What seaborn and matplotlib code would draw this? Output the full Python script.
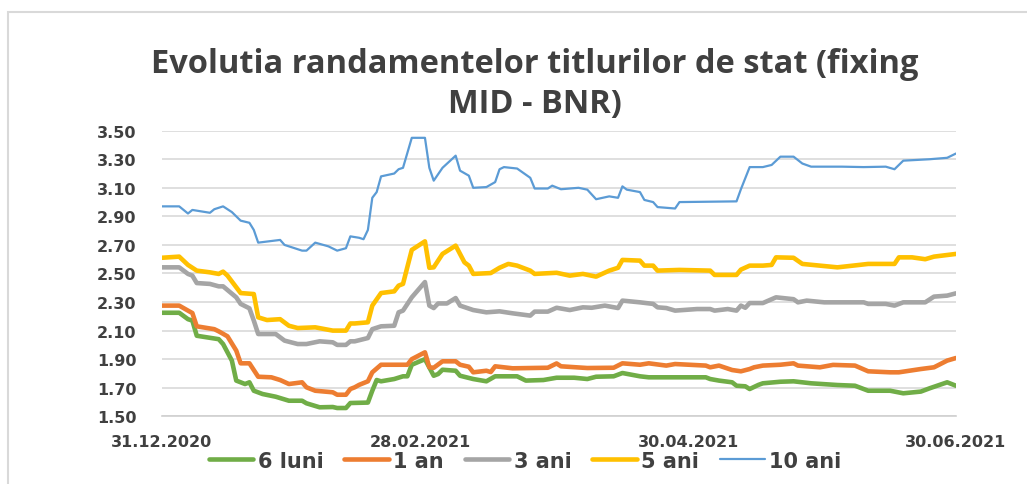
import pandas as pd
import numpy as np
import matplotlib
matplotlib.use("Agg")
import matplotlib.pyplot as plt
import matplotlib.dates as mdates
from matplotlib.patches import Rectangle
import seaborn as sns

# randamente titluri de stat, fixing MID - BNR (zile de la 31.12.2020)
start = pd.Timestamp("2020-12-31")

zile_6l = [0, 4, 6, 7, 8, 13, 14, 16, 17, 19, 20, 21, 23, 26, 29, 32, 33, 36, 39, 40, 42, 43, 47, 48,
           49, 50, 53, 55, 56, 57, 60, 62, 63, 64, 67, 68, 71, 74, 76, 81, 83, 87, 90, 94, 97, 99,
           103, 105, 109, 111, 124, 125, 127, 130, 131, 133, 134, 136, 137, 141, 144, 148, 154,
           158, 161, 166, 169, 173, 175, 179, 181]
val_6l = [2.225, 2.225, 2.18, 2.17, 2.064, 2.04, 2.006, 1.89, 1.75, 1.726, 1.738, 1.679, 1.656, 1.637,
          1.609, 1.609, 1.591, 1.563, 1.565, 1.558, 1.558, 1.593, 1.596, 1.679, 1.754, 1.745, 1.761,
          1.78, 1.78, 1.861, 1.90, 1.784, 1.796, 1.826, 1.819, 1.784, 1.761, 1.745, 1.78, 1.78, 1.75,
          1.754, 1.77, 1.77, 1.761, 1.777, 1.78, 1.803, 1.78, 1.773, 1.773, 1.761, 1.75, 1.738, 1.714,
          1.71, 1.691, 1.72, 1.731, 1.742, 1.745, 1.731, 1.719, 1.714, 1.679, 1.679, 1.661, 1.673,
          1.696, 1.738, 1.714]

zile_1a = [0, 4, 6, 7, 8, 12, 13, 15, 17, 18, 20, 22, 25, 27, 29, 32, 33, 35, 39, 40, 42, 43, 44, 45,
           47, 48, 50, 56, 57, 60, 61, 62, 64, 67, 68, 70, 71, 74, 75, 76, 80, 88, 90, 91, 97, 103,
           105, 109, 111, 115, 117, 124, 125, 127, 130, 132, 134, 135, 137, 141, 144, 145, 150, 153,
           158, 161, 166, 168, 173, 176, 179, 181]
val_1a = [2.275, 2.275, 2.24, 2.223, 2.13, 2.11, 2.095, 2.06, 1.96, 1.871, 1.871, 1.777, 1.773, 1.754,
          1.726, 1.738, 1.703, 1.679, 1.668, 1.651, 1.651, 1.691, 1.703, 1.72, 1.745, 1.808, 1.861,
          1.861, 1.90, 1.948, 1.843, 1.84, 1.885, 1.885, 1.861, 1.847, 1.808, 1.819, 1.81, 1.85, 1.836,
          1.84, 1.87, 1.85, 1.838, 1.84, 1.871, 1.861, 1.871, 1.855, 1.866, 1.855, 1.843, 1.855, 1.824,
          1.815, 1.831, 1.843, 1.855, 1.861, 1.871, 1.855, 1.843, 1.86, 1.855, 1.815, 1.808, 1.808,
          1.831, 1.843, 1.89, 1.908]

zile_3a = [0, 4, 6, 7, 8, 11, 13, 14, 17, 18, 20, 21, 22, 26, 28, 31, 33, 36, 39, 40, 42, 43, 44, 47,
           48, 50, 53, 54, 55, 57, 60, 61, 62, 63, 65, 67, 68, 71, 74, 77, 80, 84, 85, 88, 90, 93,
           96, 98, 101, 104, 105, 109, 112, 113, 115, 117, 122, 125, 126, 129, 131, 132, 133, 134,
           137, 140, 144, 145, 147, 151, 160, 161, 165, 167, 169, 174, 176, 179, 181]
val_3a = [2.543, 2.543, 2.497, 2.485, 2.433, 2.427, 2.41, 2.41, 2.333, 2.287, 2.256, 2.17, 2.076, 2.076,
          2.03, 2.006, 2.006, 2.025, 2.018, 2.00, 2.00, 2.025, 2.025, 2.048, 2.11, 2.13, 2.134, 2.228,
          2.24, 2.333, 2.44, 2.275, 2.258, 2.29, 2.29, 2.328, 2.275, 2.244, 2.228, 2.235, 2.221, 2.205,
          2.233, 2.233, 2.26, 2.244, 2.263, 2.26, 2.275, 2.258, 2.31, 2.298, 2.287, 2.263, 2.258, 2.24,
          2.251, 2.251, 2.24, 2.251, 2.24, 2.275, 2.26, 2.293, 2.293, 2.333, 2.32, 2.298, 2.31, 2.298,
          2.298, 2.287, 2.287, 2.275, 2.298, 2.298, 2.338, 2.345, 2.361]

zile_5a = [0, 4, 6, 8, 11, 13, 14, 15, 18, 21, 22, 24, 27, 29, 31, 35, 39, 42, 43, 44, 47, 48, 50, 53,
           54, 55, 57, 60, 61, 62, 64, 67, 69, 70, 71, 75, 77, 79, 81, 84, 85, 90, 93, 96, 99, 102,
           104, 105, 109, 110, 112, 113, 118, 125, 126, 131, 132, 134, 137, 139, 140, 144, 146, 150,
           154, 159, 161, 167, 168, 171, 174, 176, 181]
val_5a = [2.61, 2.618, 2.56, 2.52, 2.508, 2.497, 2.513, 2.485, 2.363, 2.356, 2.193, 2.174, 2.18, 2.134,
          2.118, 2.123, 2.10, 2.10, 2.15, 2.15, 2.158, 2.275, 2.363, 2.375, 2.415, 2.427, 2.665, 2.725,
          2.54, 2.543, 2.637, 2.695, 2.578, 2.555, 2.497, 2.503, 2.54, 2.567, 2.555, 2.52, 2.497, 2.505,
          2.485, 2.497, 2.478, 2.52, 2.54, 2.595, 2.59, 2.555, 2.555, 2.52, 2.525, 2.52, 2.49, 2.49,
          2.527, 2.555, 2.555, 2.56, 2.613, 2.61, 2.567, 2.555, 2.543, 2.56, 2.567, 2.567, 2.613, 2.613,
          2.60, 2.618, 2.637]

zile_10a = [0, 4, 6, 7, 11, 12, 14, 16, 18, 20, 21, 22, 27, 28, 30, 32, 33, 35, 38, 40, 42, 43, 45, 46,
            47, 48, 49, 50, 53, 54, 55, 57, 60, 61, 62, 64, 67, 68, 70, 71, 74, 76, 77, 78, 81, 84,
            85, 88, 89, 91, 95, 97, 99, 102, 104, 105, 106, 109, 110, 112, 113, 117, 118, 131, 132,
            134, 137, 139, 141, 144, 146, 148, 155, 160, 165, 167, 169, 175, 179, 181]
val_10a = [2.97, 2.97, 2.92, 2.945, 2.925, 2.95, 2.97, 2.93, 2.87, 2.855, 2.805, 2.716, 2.735, 2.70,
           2.68, 2.66, 2.66, 2.716, 2.69, 2.66, 2.677, 2.76, 2.75, 2.74, 2.805, 3.03, 3.07, 3.18, 3.20,
           3.23, 3.24, 3.45, 3.45, 3.24, 3.15, 3.24, 3.325, 3.22, 3.185, 3.10, 3.105, 3.14, 3.23, 3.245,
           3.235, 3.17, 3.095, 3.095, 3.115, 3.09, 3.10, 3.087, 3.02, 3.04, 3.03, 3.11, 3.087, 3.07,
           3.015, 3.00, 2.965, 2.955, 3.00, 3.005, 3.09, 3.245, 3.245, 3.26, 3.318, 3.318, 3.27, 3.248,
           3.248, 3.245, 3.248, 3.23, 3.29, 3.30, 3.31, 3.34]

serii = ["6 luni", "1 an", "3 ani", "5 ani", "10 ani"]
zile = [zile_6l, zile_1a, zile_3a, zile_5a, zile_10a]
valori = [val_6l, val_1a, val_3a, val_5a, val_10a]
culori = ["#70AD47", "#ED7D31", "#A5A5A5", "#FFC000", "#5B9BD5"]
grosimi = [3.3, 3.3, 3.3, 3.3, 1.6]

ticks_x = ["2020-12-31", "2021-02-28", "2021-04-30", "2021-06-30"]

sns.set_style("white")
plt.rcParams["font.family"] = ["DejaVu Sans"]
text_col = "#404040"

fig = plt.figure(figsize=(10.27, 4.85), dpi=100)
ax = fig.add_axes([0.1574, 0.1396, 0.7734, 0.5889])

for nume, z, v, c, lw in zip(serii, zile, valori, culori, grosimi):
    d = start + pd.to_timedelta(z, unit="D")
    sns.lineplot(x=d, y=v, ax=ax, color=c, linewidth=lw, label=nume)

ax.set_xlim(pd.Timestamp(ticks_x[0]), pd.Timestamp(ticks_x[-1]))
ax.set_ylim(1.5, 3.5)
ax.set_yticks(np.arange(1.5, 3.51, 0.2))
ax.yaxis.set_major_formatter(matplotlib.ticker.FormatStrFormatter("%.2f"))
ax.set_xticks([pd.Timestamp(t) for t in ticks_x])
ax.xaxis.set_major_formatter(mdates.DateFormatter("%d.%m.%Y"))
ax.set_xlabel("")
ax.set_ylabel("")

ax.grid(axis="y", color="#D9D9D9", linewidth=1.2)
ax.grid(axis="x", visible=False)
for s in ["top", "right", "left"]:
    ax.spines[s].set_visible(False)
ax.spines["bottom"].set_color("#D0D0D0")
ax.spines["bottom"].set_linewidth(1.2)
ax.tick_params(axis="y", length=0, pad=18, labelsize=11.5, labelcolor=text_col)
ax.tick_params(axis="x", length=4, width=1, color="#D0D0D0", pad=8.5,
               labelsize=11.5, labelcolor=text_col)
for lab in ax.get_xticklabels() + ax.get_yticklabels():
    lab.set_fontweight("bold")

handles, labels = ax.get_legend_handles_labels()
ax.get_legend().remove()
leg = fig.legend(handles, labels, loc="center", bbox_to_anchor=(0.511, 0.048), ncol=5,
                 frameon=False, handlelength=2.15, handletextpad=0.2, columnspacing=1.0,
                 prop={"size": 15, "weight": "bold"})
for t in leg.get_texts():
    t.set_color(text_col)

fig.text(0.521, 0.826, "Evolutia randamentelor titlurilor de stat (fixing\nMID - BNR)",
         ha="center", va="center", fontsize=23.5, fontweight="bold", color=text_col,
         family=["Open Sans", "DejaVu Sans"], linespacing=1.3)

fig.patches.append(Rectangle((8 / 1027, -0.1), 1.1, 0.9732 + 0.1, transform=fig.transFigure,
                             fill=False, edgecolor="#D9D9D9", linewidth=1.5))

fig.savefig("out.png", dpi=100)
